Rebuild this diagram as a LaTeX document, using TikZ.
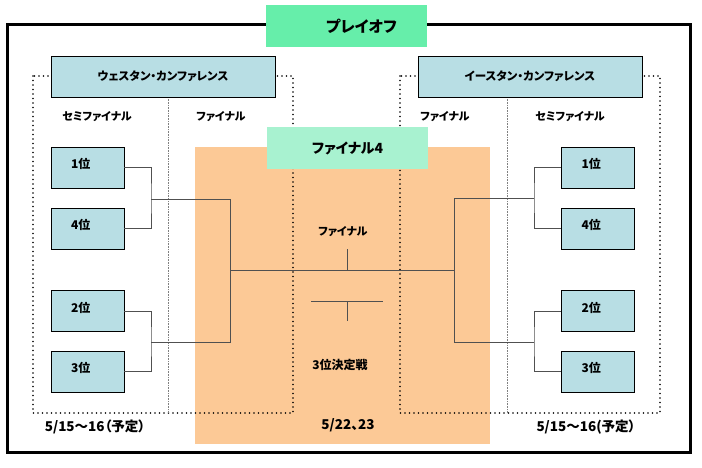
\documentclass[tikz,border=0pt]{standalone}
\usepackage{fontspec}
\newfontfamily\jpfont{Noto Sans CJK JP}[RawFeature=+palt]
\usetikzlibrary{calc, positioning}
\definecolor{playoffbg}{HTML}{66EEAA}
\definecolor{finalfourbg}{HTML}{A8F2D0}
\definecolor{teambg}{HTML}{B8DEE4}
\definecolor{finalzone}{HTML}{FCC996}
\definecolor{linegray}{HTML}{505050}

\begin{document}
\begin{tikzpicture}[
    x=1pt, y=-1pt,
    font=\jpfont\bfseries,
    titlebox/.style={fill=#1, minimum width=161pt, minimum height=42pt, inner sep=0pt, font=\jpfont\bfseries\fontsize{14}{16}\selectfont},
    confbox/.style={draw=black, fill=teambg, line width=0.9pt, minimum width=224pt, minimum height=41pt, inner sep=0pt, font=\jpfont\bfseries\fontsize{11.5}{13}\selectfont},
    team/.style={draw=black, fill=teambg, line width=0.9pt, minimum width=73pt, minimum height=41pt, inner xsep=20pt, inner ysep=0pt, text width=33pt, align=left, text height=9pt, text depth=7pt, font=\jpfont\bfseries\fontsize{12}{14}\selectfont},
    zone/.style={line width=1.6pt, dash pattern=on 0pt off 4.5pt, line cap=round},
    split/.style={gray, line width=0.5pt, dash pattern=on 0.8pt off 0.8pt},
    bracket/.style={linegray, line width=0.9pt},
    caption/.style={font=\jpfont\bfseries\fontsize{11}{13}\selectfont},
    datetext/.style={font=\jpfont\bfseries\fontsize{13.5}{15}\selectfont}
]
    \useasboundingbox (0,0) rectangle (702,468);

    % Outer frame and final-four zone
    \draw[line width=3pt] (7,25) rectangle (690,452);
    \fill[finalzone] (195,147) rectangle (490,444);

    % Conference zones
    \draw[zone] (33,76) rectangle (293,413);
    \draw[zone] (400,76) rectangle (660,413);
    \draw[split] (168,97) -- (168,413);
    \draw[split] (507,97) -- (507,413);

    % Titles
    \node[titlebox=playoffbg, inner xsep=30pt, text width=101pt, align=right, font=\jpfont\bfseries\fontsize{15.5}{17}\selectfont] (playoff) at (346.5,26) {プレイオフ};
    \node[titlebox=finalfourbg] (finalfour) at (347.5,148) {ファイナル4};

    % Conferences
    \node[confbox] (west) at (163,76.5) {ウェスタン・カンファレンス};
    \node[confbox] (east) at (530,76.5) {イースタン・カンファレンス};

    \node[caption] (wsemi) at (97,117) {セミファイナル};
    \node[caption] (wfinal) at (221,117) {ファイナル};
    \node[caption] (efinal) at (445,117) {ファイナル};
    \node[caption] (esemi) at (570,117) {セミファイナル};

    % Teams
    \node[team] (w1) at (87.5,167.5) {1位};
    \node[team] (w4) at (87.5,228.5) {4位};
    \node[team] (w2) at (87.5,311) {2位};
    \node[team] (w3) at (87.5,371.5) {3位};
    \node[team] (e1) at (598,167.5) {1位};
    \node[team] (e4) at (598,228.5) {4位};
    \node[team] (e2) at (598,311) {2位};
    \node[team] (e3) at (598,371.5) {3位};

    % Bracket joints
    \coordinate (wjA) at (151,199);
    \coordinate (wjB) at (151,342);
    \coordinate (wcA) at (230,199);
    \coordinate (wcB) at (230,342);
    \coordinate (ejA) at (534,198);
    \coordinate (ejB) at (534,342);
    \coordinate (ecA) at (454,198);
    \coordinate (ecB) at (454,342);
    \coordinate (fmid) at (347,270);
    \coordinate (ftop) at (347,249);
    \coordinate (tleft) at (311,301);
    \coordinate (tright) at (383,301);
    \coordinate (tmid) at (347,301);
    \coordinate (tbot) at (347,321);

    % Semifinal brackets
    \draw[bracket] (w1.east) -| (wjA) |- (w4.east);
    \draw[bracket] (w2.east) -| (wjB) |- (w3.east);
    \draw[bracket] (e1.west) -| (ejA) |- (e4.west);
    \draw[bracket] (e2.west) -| (ejB) |- (e3.west);

    % Conference finals
    \draw[bracket] (wjA) -- (wcA) -- (wcB) -- (wjB);
    \draw[bracket] (ejA) -- (ecA) -- (ecB) -- (ejB);

    % Final and 3rd place
    \draw[bracket] (wcA |- fmid) -- (ecA |- fmid);
    \draw[bracket] (fmid) -- (ftop);
    \draw[bracket] (tleft) -- (tright);
    \draw[bracket] (tmid) -- (tbot);

    \node[caption] (finallbl) at (343,232) {ファイナル};
    \node[caption, font=\jpfont\bfseries\fontsize{12}{14}\selectfont] (thirdlbl) at (340,365) {3位決定戦};

    % Dates
    \node[datetext] (wdate) at (95,427) {5/15〜16（予定）};
    \node[datetext] (fdate) at (348,425) {5/22、23};
    \node[datetext] (edate) at (586,427) {5/15〜16(予定）};

\end{tikzpicture}
\end{document}
